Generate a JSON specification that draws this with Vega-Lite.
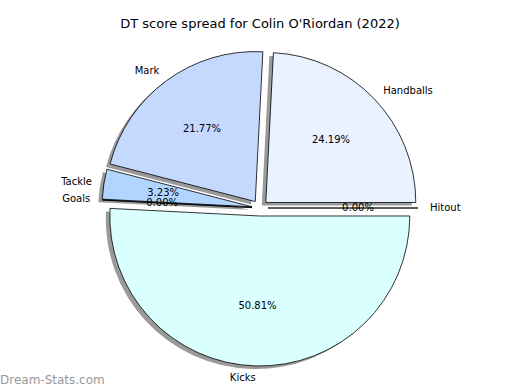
{
  "$schema": "https://vega.github.io/schema/vega-lite/v6.json",
  "width": 520,
  "height": 336,
  "autosize": {"type": "none"},
  "padding": {"top": 40, "left": 0, "right": 0, "bottom": 14},
  "background": "white",
  "title": {"text": "DT score spread for Colin O'Riordan (2022)", "font": "DejaVu Sans", "fontSize": 13, "fontWeight": "normal", "color": "#000000", "offset": 9},
  "view": {"stroke": null},
  "layer": [
    {
      "data": {"values": [
        {"stat": "Hitout", "v": 0},
        {"stat": "Handballs", "v": 30},
        {"stat": "Mark", "v": 27},
        {"stat": "Tackle", "v": 4},
        {"stat": "Goals", "v": 0},
        {"stat": "Kicks", "v": 63}
      ]},
      "transform": [
        {"window": [{"op": "row_number", "as": "idx"}]},
        {"joinaggregate": [{"op": "sum", "field": "v", "as": "total"}]},
        {"window": [{"op": "sum", "field": "v", "as": "cum"}], "sort": [{"field": "idx"}], "frame": [null, 0]},
        {"calculate": "2*PI*(datum.cum - datum.v/2)/datum.total", "as": "ang"},
        {"calculate": "cos(datum.ang)", "as": "ex"},
        {"calculate": "-sin(datum.ang)", "as": "ey"},
        {"calculate": "format(datum.v/datum.total, '.2%')", "as": "pct"}
      ],
      "encoding": {
        "theta": {"field": "v", "type": "quantitative", "stack": true, "scale": {"range": [1.5707963, -4.7123890]}},
        "order": {"field": "idx", "type": "quantitative"}
      },
      "layer": [
        {
          "mark": {"type": "arc", "radius": 150, "fill": "#9a9a9a", "stroke": null,
                   "xOffset": {"expr": "8*datum.ex - 4"}, "yOffset": {"expr": "8*datum.ey + 3"}}
        },
        {
          "mark": {"type": "arc", "radius": 150, "stroke": "#000000", "strokeWidth": 0.8,
                   "xOffset": {"expr": "8*datum.ex"}, "yOffset": {"expr": "8*datum.ey"}},
          "encoding": {
            "color": {"field": "stat", "type": "nominal", "legend": null,
                      "scale": {"domain": ["Hitout", "Handballs", "Mark", "Tackle", "Goals", "Kicks"],
                                "range": ["#e0e8ff", "#eaf1ff", "#c5d9ff", "#b2d5ff", "#cde6ff", "#d9ffff"]}}
          }
        },
        {
          "mark": {"type": "text", "radius": 90, "font": "DejaVu Sans", "fontSize": 10, "color": "#000000",
                   "align": "center", "baseline": "middle",
                   "xOffset": {"expr": "8*datum.ex"}, "yOffset": {"expr": "8*datum.ey"}},
          "encoding": {"text": {"field": "pct"}}
        },
        {
          "mark": {"type": "text", "radius": 162, "font": "DejaVu Sans", "fontSize": 10, "color": "#000000",
                   "align": {"expr": "datum.ex > 0 ? 'left' : 'right'"}, "baseline": "middle",
                   "xOffset": {"expr": "8*datum.ex"}, "yOffset": {"expr": "8*datum.ey"}},
          "encoding": {"text": {"field": "stat"}}
        }
      ]
    },
    {
      "data": {"values": [{"t": "Dream-Stats.com"}]},
      "mark": {"type": "text", "x": 0, "y": {"expr": "height + 4"}, "align": "left", "baseline": "middle",
               "font": "DejaVu Sans", "fontSize": 12, "fontWeight": "normal", "color": "#999999"},
      "encoding": {"text": {"field": "t"}}
    }
  ]
}
